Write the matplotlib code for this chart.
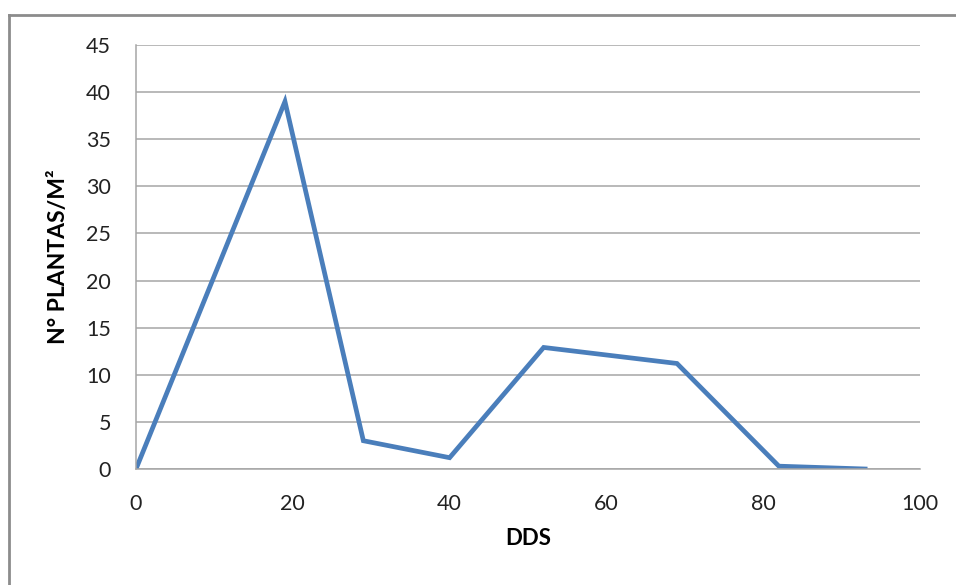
import matplotlib.pyplot as plt
from matplotlib.lines import Line2D

# days after sowing vs. plant density
dds = [0, 19, 29, 40, 52, 69, 82, 93]
plantas_m2 = [0, 39, 3, 1.2, 12.9, 11.2, 0.3, 0]

x_ticks = [0, 20, 40, 60, 80, 100]
y_ticks = [0, 5, 10, 15, 20, 25, 30, 35, 40, 45]

plt.rcParams['font.family'] = ['Lato', 'DejaVu Sans']

fig = plt.figure(figsize=(9.56, 5.85), dpi=100)
ax = fig.add_axes([136 / 956, 1 - 469 / 585, 784 / 956, 424 / 585])

ax.plot(dds, plantas_m2, color='#4A7EBB', linewidth=3.4, solid_joinstyle='miter')

ax.set_xlim(0, 100)
ax.set_ylim(0, 45)
ax.set_xticks(x_ticks)
ax.set_yticks(y_ticks)
ax.tick_params(axis='both', length=0, labelsize=15.5, colors='#222222')
ax.tick_params(axis='y', pad=18)
ax.tick_params(axis='x', pad=18)

ax.grid(axis='y', color='#A6A6A6', linewidth=1.1)
ax.set_axisbelow(True)
for side in ['top', 'right']:
    ax.spines[side].set_visible(False)
for side in ['left', 'bottom']:
    ax.spines[side].set_color('#A6A6A6')
    ax.spines[side].set_linewidth(1.1)

ax.set_xlabel('DDS', fontsize=16, fontweight='bold', labelpad=10)
ax.set_ylabel('N° PLANTAS/M²', fontsize=16.5, fontweight='bold', labelpad=12)

# outer chart frame (left and top edges)
fig.add_artist(Line2D([9 / 956, 9 / 956], [0, 1 - 15 / 585], color='#8C8C8C', linewidth=2))
fig.add_artist(Line2D([9 / 956, 1], [1 - 15 / 585, 1 - 15 / 585], color='#8C8C8C', linewidth=2))

fig.savefig('out.png', dpi=100, facecolor='white')
